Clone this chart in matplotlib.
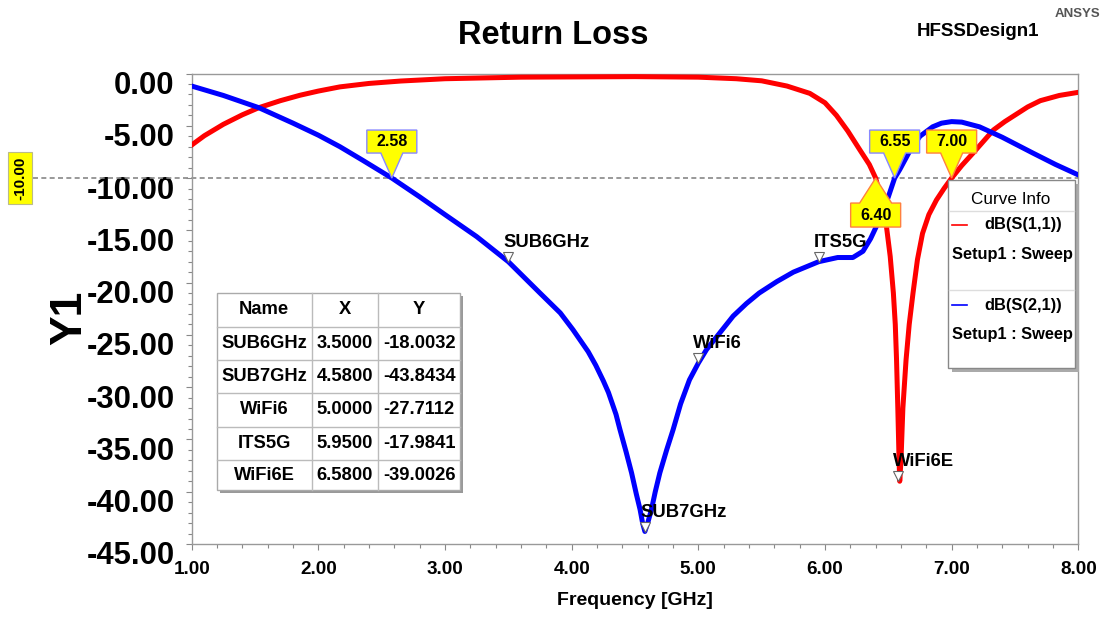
import matplotlib
matplotlib.use("Agg")
import matplotlib.pyplot as plt
import matplotlib.transforms as mtransforms
from matplotlib.patches import Polygon, Rectangle
from matplotlib.lines import Line2D
from matplotlib.ticker import MultipleLocator, FormatStrFormatter

plt.rcParams['font.family'] = ['Liberation Sans', 'DejaVu Sans']

# dB(S(1,1)) - red
s11_freq = [1.00, 1.10, 1.25, 1.40, 1.53, 1.70, 1.855, 2.00, 2.17, 2.40, 2.65, 3.00,
            3.60, 4.50, 5.00, 5.30, 5.50, 5.70, 5.88, 6.00, 6.09, 6.18, 6.275, 6.35,
            6.40, 6.45, 6.485, 6.515, 6.54, 6.555, 6.565, 6.575, 6.585, 6.59, 6.60,
            6.615, 6.64, 6.665, 6.695, 6.73, 6.77, 6.82, 6.88, 6.94, 7.00, 7.08, 7.17,
            7.25, 7.33, 7.42, 7.51, 7.60, 7.70, 7.85, 8.00]
s11_db = [-6.84, -5.95, -4.86, -3.95, -3.27, -2.6, -2.08, -1.68, -1.28, -0.95, -0.72, -0.5,
          -0.35, -0.3, -0.35, -0.5, -0.7, -1.2, -1.9, -2.8, -4.0, -5.5, -7.3, -8.7,
          -10.0, -12.3, -14.6, -17.5, -21.0, -24.0, -27.4, -32.0, -37.0, -39.0, -37.0,
          -32.0, -27.4, -24.0, -21.0, -17.8, -15.3, -13.5, -12.1, -11.0, -10.0, -8.8, -7.6,
          -6.5, -5.4, -4.6, -3.9, -3.2, -2.6, -2.1, -1.8]

# dB(S(2,1)) - blue
s21_freq = [1.00, 1.25, 1.53, 1.80, 2.00, 2.17, 2.35, 2.58, 2.80, 3.00, 3.25, 3.50,
            3.75, 3.91, 4.01, 4.13, 4.19, 4.25, 4.29, 4.35, 4.38, 4.43, 4.473, 4.51,
            4.54, 4.56, 4.578, 4.60, 4.63, 4.66, 4.696, 4.75, 4.80, 4.86, 4.93, 5.00,
            5.065, 5.17, 5.275, 5.38, 5.48, 5.62, 5.75, 5.85, 5.95, 6.10, 6.22, 6.30,
            6.36, 6.43, 6.50, 6.55, 6.59, 6.67, 6.75, 6.85, 6.92, 7.00, 7.08, 7.22,
            7.40, 7.64, 7.82, 8.00]
s21_db = [-1.2, -2.1, -3.27, -4.75, -5.9, -7.0, -8.3, -10.0, -11.8, -13.5, -15.6, -18.0,
          -21.0, -22.9, -24.5, -26.6, -27.9, -29.4, -30.5, -32.6, -34.0, -36.2, -38.2, -40.2,
          -41.7, -43.0, -43.8, -43.0, -41.7, -40.0, -38.2, -36.0, -34.1, -31.6, -29.3, -27.7,
          -26.4, -24.8, -23.2, -22.0, -21.0, -19.9, -19.0, -18.5, -18.0, -17.6, -17.6, -17.0,
          -15.8, -14.0, -11.8, -10.0, -9.2, -7.4, -6.0, -5.1, -4.75, -4.6, -4.65, -5.1,
          -6.1, -7.6, -8.7, -9.7]

# named markers (table)
mk_names = ['SUB6GHz', 'SUB7GHz', 'WiFi6', 'ITS5G', 'WiFi6E']
mk_x = [3.5, 4.58, 5.0, 5.95, 6.58]
mk_y = [-18.0032, -43.8434, -27.7112, -17.9841, -39.0026]

# -10 dB crossings
cut_level = -10.0
cut_x = [2.58, 6.40, 6.55, 7.00]
cut_curve = ['s21', 's11', 's21', 's11']

W, H = 1105, 617
fig = plt.figure(figsize=(W / 100, H / 100), dpi=100)
ax = fig.add_axes([191.7 / W, 73 / H, 886.6 / W, 470.5 / H])


def fpx(x, y):
    return (x / W, 1 - y / H)


ax.plot(s11_freq, s11_db, color='#ff0000', lw=3.6, solid_joinstyle='round', zorder=3)
ax.plot(s21_freq, s21_db, color='#0000ff', lw=3.6, solid_joinstyle='round', zorder=3)

ax.set_xlim(1, 8)
ax.set_ylim(-45, 0)
ax.xaxis.set_major_locator(MultipleLocator(1))
ax.xaxis.set_minor_locator(MultipleLocator(0.2))
ax.yaxis.set_major_locator(MultipleLocator(5))
ax.yaxis.set_minor_locator(MultipleLocator(1))
ax.xaxis.set_major_formatter(FormatStrFormatter('%.2f'))
ax.yaxis.set_major_formatter(FormatStrFormatter('%.2f'))
for s in ax.spines.values():
    s.set_color('#999999')
    s.set_linewidth(1.0)
ax.tick_params(which='both', direction='out', color='#888888', width=0.8)
ax.tick_params(which='major', length=4.3)
ax.tick_params(which='minor', length=2.9)
ax.tick_params(axis='y', which='major', labelsize=22.3, pad=8)
ax.tick_params(axis='x', which='major', labelsize=13.6, pad=8)
for lab in ax.get_yticklabels():
    lab.set_fontweight('bold')
    lab.set_transform(lab.get_transform() + mtransforms.ScaledTranslation(0, -0.09, fig.dpi_scale_trans))
for lab in ax.get_xticklabels():
    lab.set_fontweight('bold')

ax.set_xlabel('Frequency [GHz]', fontsize=14, fontweight='bold', labelpad=10)
fig.text(*fpx(70, 318), 'Y1', rotation=90, ha='center', va='center', fontsize=32, fontweight='bold')
fig.text(*fpx(553, 36), 'Return Loss', ha='center', va='center', fontsize=23.5, fontweight='bold')
fig.text(*fpx(978, 32), 'HFSSDesign1', ha='center', va='center', fontsize=13.5, fontweight='bold')
fig.text(*fpx(1077, 14), 'ANSYS', ha='center', va='center', fontsize=9.5, fontweight='bold', color='#555555')

# -10 dB reference line
bt = mtransforms.blended_transform_factory(ax.transAxes, ax.transData)
ax.plot([-(191.7 - 33) / 886.6, 1.0], [cut_level, cut_level], transform=bt, clip_on=False,
        color='#888888', lw=1.2, ls=(0, (3, 2)), zorder=2)
fig.text(*fpx(20, 178), '%.2f' % cut_level, rotation=90, ha='center', va='center', fontsize=11,
         fontweight='bold', bbox=dict(boxstyle='square,pad=0.3', fc='#ffff00', ec='#bbbb88', lw=0.8))

# crossing markers
for x, c in zip(cut_x, cut_curve):
    ec = '#8888ff' if c == 's21' else '#ff8040'
    below = (c == 's11' and x < 6.5)
    if below:
        v = [(0, 0), (16, -25), (25, -25), (25, -49), (-25, -49), (-25, -25), (-16, -25)]
        ty = -37
    else:
        v = [(0, 0), (11, 25), (25, 25), (25, 48), (-25, 48), (-25, 25), (-11, 25)]
        ty = 36.5
    v = [(a / 100, b / 100) for a, b in v]
    tr = fig.dpi_scale_trans + mtransforms.ScaledTranslation(x, cut_level, ax.transData)
    ax.add_patch(Polygon(v, closed=True, transform=tr, fc='#ffff00', ec=ec, lw=1.0,
                         zorder=6, clip_on=False))
    ax.text(x, cut_level, '%.2f' % x, ha='center', va='center', fontsize=11.5, fontweight='bold',
            transform=mtransforms.offset_copy(ax.transData, fig=fig, x=0, y=ty, units='dots'),
            zorder=7, clip_on=False)

# named markers
ax.plot(mk_x, mk_y, ls='none', marker='v', ms=7, mfc='white', mec='#666666', mew=0.8, zorder=5,
        transform=mtransforms.offset_copy(ax.transData, fig=fig, x=0, y=5, units='dots'))
for n, x, y in zip(mk_names, mk_x, mk_y):
    ax.annotate(n, (x, y), xytext=(-5, 15), textcoords='offset pixels', fontsize=13.3,
                fontweight='bold', va='baseline', ha='left', zorder=6)

# marker table
tl, tr_, tt, tb = 216.7, 460, 293.3, 490
fig.add_artist(Rectangle(fpx(tl + 3, tb + 3), (tr_ - tl) / W, (tb - tt) / H, transform=fig.transFigure,
                         fc='#999999', ec='none', zorder=3))
fig.add_artist(Rectangle(fpx(tl, tb), (tr_ - tl) / W, (tb - tt) / H, transform=fig.transFigure,
                         fc='white', ec='#aaaaaa', lw=1, zorder=4))
row_y = [293.3, 326.7, 360, 393.3, 426.7, 460, 490]
col_x = [216.7, 311.7, 378.3, 460]
for yy in row_y[1:-1]:
    fig.add_artist(Line2D([tl / W, tr_ / W], [1 - yy / H] * 2, transform=fig.transFigure,
                          color='#bbbbbb', lw=1, zorder=5))
for xx in col_x[1:-1]:
    fig.add_artist(Line2D([xx / W] * 2, [1 - tt / H, 1 - tb / H], transform=fig.transFigure,
                          color='#bbbbbb', lw=1, zorder=5))
rows = [['Name', 'X', 'Y']] + [[n, '%.4f' % x, '%.4f' % y] for n, x, y in zip(mk_names, mk_x, mk_y)]
for i, r in enumerate(rows):
    cy = (row_y[i] + row_y[i + 1]) / 2
    for j, t in enumerate(r):
        cx = (col_x[j] + col_x[j + 1]) / 2
        fig.text(*fpx(cx, cy), t, ha='center', va='center', fontsize=13.2, fontweight='bold', zorder=6)

# curve info box
lx0, lx1, ly0, ly1 = 948, 1075, 180, 368
fig.add_artist(Rectangle(fpx(lx0 + 4, ly1 + 4), (lx1 - lx0) / W, (ly1 - ly0) / H, transform=fig.transFigure,
                         fc='#aaaaaa', ec='none', zorder=3))
fig.add_artist(Rectangle(fpx(lx0, ly1), (lx1 - lx0) / W, (ly1 - ly0) / H, transform=fig.transFigure,
                         fc='white', ec='#888888', lw=1, zorder=4))
fig.text(*fpx(1011, 200), 'Curve Info', ha='center', va='center', fontsize=12.3, zorder=6)
for yy in [211, 290]:
    fig.add_artist(Line2D([(lx0 + 1) / W, (lx1 - 1) / W], [1 - yy / H] * 2, transform=fig.transFigure,
                          color='#dddddd', lw=1, zorder=5))
for yy, col, name in [(225, '#ff0000', 'dB(S(1,1))'), (305, '#0000ff', 'dB(S(2,1))')]:
    fig.add_artist(Line2D([952 / W, 967 / W], [1 - yy / H] * 2, transform=fig.transFigure,
                          color=col, lw=1.2, zorder=5))
    fig.text(*fpx(1023, yy), name, ha='center', va='center', fontsize=11.8, fontweight='bold', zorder=6)
    fig.text(*fpx(1012, yy + 30), 'Setup1 : Sweep', ha='center', va='center', fontsize=11.8,
             fontweight='bold', zorder=6)

fig.savefig('out.png', dpi=100)
